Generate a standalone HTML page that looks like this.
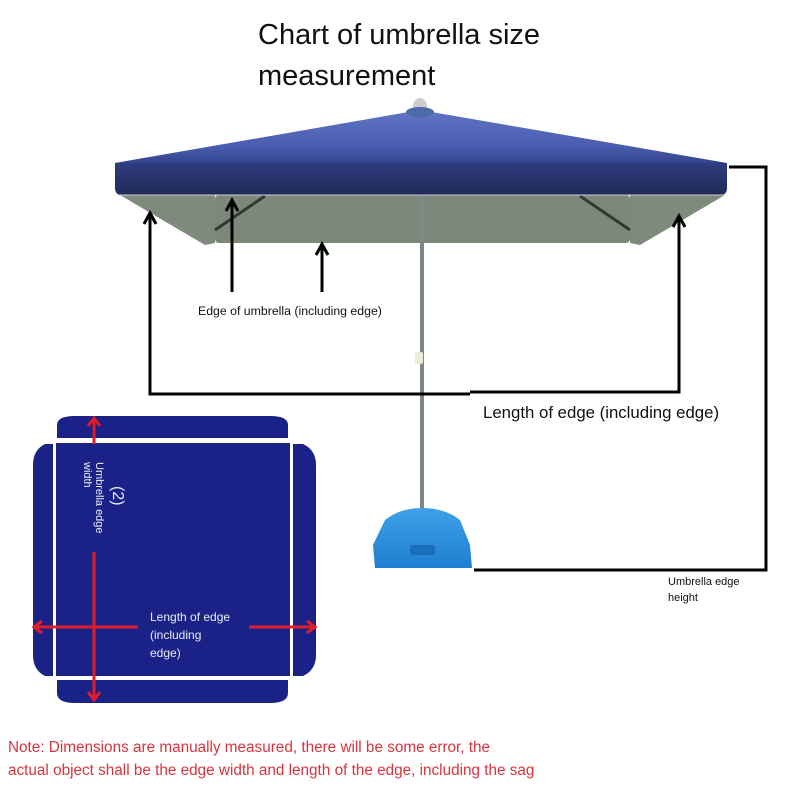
<!DOCTYPE html>
<html><head><meta charset="utf-8"><style>
html,body{margin:0;padding:0;background:#fff;}
svg{display:block;font-family:"Liberation Sans",sans-serif;}
</style></head><body>
<svg width="800" height="800" viewBox="0 0 800 800" xmlns="http://www.w3.org/2000/svg">
<defs>
<linearGradient id="top" x1="0" y1="0" x2="0" y2="1">
<stop offset="0" stop-color="#6274c4"/><stop offset="0.7" stop-color="#4a5cae"/><stop offset="1" stop-color="#33438c"/>
</linearGradient>
<linearGradient id="band" x1="0" y1="0" x2="0" y2="1">
<stop offset="0" stop-color="#2e3d80"/><stop offset="1" stop-color="#202a58"/>
</linearGradient>
<linearGradient id="base" x1="0" y1="0" x2="0" y2="1">
<stop offset="0" stop-color="#3fa0e8"/><stop offset="1" stop-color="#1f7fd0"/>
</linearGradient>
</defs>
<text x="258" y="44" font-size="29" fill="#111">Chart of umbrella size</text>
<text x="258" y="85" font-size="29" fill="#111">measurement</text>
<polygon points="120,195 215,195 215,243 205,245" fill="#7e8a7c"/>
<polygon points="725,195 630,195 630,243 640,245" fill="#7e8a7c"/>
<rect x="215" y="195" width="415" height="48" rx="4" fill="#7d887b"/>
<line x1="215" y1="230" x2="265" y2="196" stroke="#2f3a32" stroke-width="3"/>
<line x1="630" y1="230" x2="580" y2="196" stroke="#2f3a32" stroke-width="3"/>
<polygon points="420,110 727,163 115,163" fill="url(#top)"/>
<path d="M115,163 L727,163 L727,188 Q727,195 720,195 L122,195 Q115,195 115,188 Z" fill="url(#band)"/>
<line x1="118" y1="195" x2="724" y2="195" stroke="#ccd" stroke-width="1"/>
<ellipse cx="420" cy="106" rx="7" ry="8" fill="#ccc"/>
<ellipse cx="420" cy="112" rx="14" ry="5" fill="#4a6aa8"/>
<rect x="420" y="196" width="4" height="315" fill="#7a8a88"/>
<rect x="415" y="352" width="8" height="12" rx="2" fill="#e8ecd8"/>
<path d="M385,520 Q400,508 422,508 Q445,508 460,520 L470,545 L472,568 L375,568 L373,545 Z" fill="url(#base)"/>
<rect x="410" y="545" width="25" height="10" rx="3" fill="#1a6fb8"/>
<g stroke="#000" stroke-width="3" fill="none">
<polyline points="150,215 150,394 470,394"/>
<polyline points="470,392 679,392 679,218"/>
<line x1="232" y1="202" x2="232" y2="292"/>
<line x1="322" y1="246" x2="322" y2="292"/>
<polyline points="729,167 766,167 766,570 474,570"/>
<polyline points="144,224 150,213 156,224"/>
<polyline points="673,227 679,216 685,227"/>
<polyline points="226,211 232,200 238,211"/>
<polyline points="316,255 322,244 328,255"/>
</g>
<text x="198" y="315" font-size="12.3" fill="#111">Edge of umbrella (including edge)</text>
<text x="483" y="418" font-size="16.8" fill="#111">Length of edge (including edge)</text>
<text x="668" y="585" font-size="11" fill="#111">Umbrella edge</text>
<text x="668" y="601" font-size="11" fill="#111">height</text>
<g fill="#1b2287">
<path d="M57,438 L57,425 Q57,416 75,416 L270,416 Q288,416 288,425 L288,438 Z"/>
<path d="M57,680 L288,680 L288,693 Q288,703 270,703 L75,703 Q57,703 57,693 Z"/>
<path d="M53,444 L53,676 L45,676 Q33,670 33,655 L33,465 Q33,450 45,444 Z"/>
<path d="M293,444 L293,676 L303,676 Q316,670 316,655 L316,465 Q316,450 303,444 Z"/>
<rect x="56" y="443" width="234" height="233"/>
</g>
<g stroke="#e01c2a" stroke-width="3" fill="none">
<line x1="94" y1="418" x2="94" y2="444"/>
<line x1="94" y1="552" x2="94" y2="700"/>
<line x1="34" y1="627" x2="138" y2="627"/>
<line x1="249" y1="627" x2="315" y2="627"/>
<polyline points="88,426 94,418 100,426"/>
<polyline points="88,692 94,700 100,692"/>
<polyline points="42,621 34,627 42,633"/>
<polyline points="307,621 315,627 307,633"/>
</g>
<g fill="#e8ecf6">
<text x="150" y="621" font-size="12">Length of edge</text>
<text x="150" y="639" font-size="12">(including</text>
<text x="150" y="657" font-size="12">edge)</text>
<text transform="translate(113,486) rotate(90)" font-size="16">(2)</text>
<text transform="translate(96,462) rotate(90)" font-size="11">Umbrella edge</text>
<text transform="translate(84,462) rotate(90)" font-size="11">width</text>
</g>
<text x="8" y="752" font-size="15.3" fill="#d9343c">Note: Dimensions are manually measured, there will be some error, the</text>
<text x="8" y="775" font-size="15.3" fill="#d9343c">actual object shall be the edge width and length of the edge, including the sag</text>
</svg>
</body></html>
